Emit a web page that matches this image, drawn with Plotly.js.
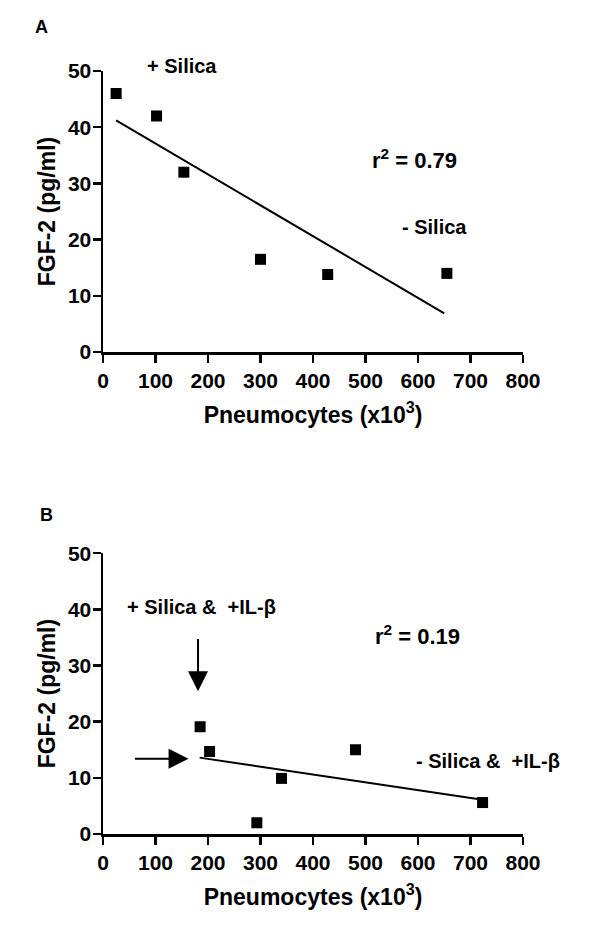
<!DOCTYPE html>
<html>
<head>
<meta charset="utf-8">
<script src="https://cdn.plot.ly/plotly-3.0.1.min.js"></script>
<style>html,body{margin:0;padding:0;background:#fff;}#chart{width:600px;height:946px;}</style>
</head>
<body>
<div id="chart"></div>
<script>
// Panel A: + Silica / - Silica
const pneumocytesA = [25, 102, 154, 300, 428, 655];
const fgf2A = [46, 42, 32, 16.5, 13.8, 14];
const fitXA = [25, 650];
const fitYA = [41.2, 6.9];
// Panel B: +/- Silica & +IL-1beta
const pneumocytesB = [185, 203, 340, 293, 481, 723];
const fgf2B = [19.1, 14.7, 9.9, 2, 15.0, 5.6];
const fitXB = [184, 723];
const fitYB = [13.6, 6.1];
// arrows in panel B: [tail, tip]
const arrowDownX = [181, 181];
const arrowDownY = [35, 25.4];
const arrowRightX = [58, 163];
const arrowRightY = [13.4, 13.4];
const xTicks = [0, 100, 200, 300, 400, 500, 600, 700, 800];
const yTicks = [0, 10, 20, 30, 40, 50];
const xTitle = 'Pneumocytes (x10<sup>3</sup>)';
const yTitle = 'FGF-2 (pg/ml)';

const FONT = '"Liberation Sans", Arial, Helvetica, sans-serif';
const W = 600, H = 946;
const mL = 102.6, mR = 600 - 522.8, mT = 70.7, mB = 946 - 834.3;
const plotH = H - mT - mB;

function scatter(x, y, xa, ya) {
  return {x: x, y: y, xaxis: xa, yaxis: ya, type: 'scatter', mode: 'markers',
    marker: {symbol: 'square', size: 11, color: '#000'}, showlegend: false, hoverinfo: 'skip'};
}
function fit(x, y, xa, ya) {
  return {x: x, y: y, xaxis: xa, yaxis: ya, type: 'scatter', mode: 'lines',
    line: {color: '#000', width: 2}, showlegend: false, hoverinfo: 'skip'};
}
const data = [
  fit(fitXA, fitYA, 'x', 'y'),
  scatter(pneumocytesA, fgf2A, 'x', 'y'),
  fit(fitXB, fitYB, 'x2', 'y2'),
  scatter(pneumocytesB, fgf2B, 'x2', 'y2')
];

function xaxis(anchor) {
  return {anchor: anchor, domain: [0, 1], range: [0, 800], tickvals: xTicks, ticktext: xTicks.map(String),
    showgrid: false, zeroline: false, showline: true, linecolor: '#000', linewidth: 2.5,
    ticks: 'outside', ticklen: 8, tickwidth: 2.5, tickcolor: '#000',
    tickfont: {family: FONT, size: 21, color: '#000', weight: 'bold'},
    title: {text: xTitle, font: {family: FONT, size: 23, color: '#000', weight: 'bold'}, standoff: 16},
    fixedrange: true};
}
function yaxis(anchor, dom) {
  return {anchor: anchor, domain: dom, range: [0, 50], tickvals: yTicks, ticktext: yTicks.map(String),
    showgrid: false, zeroline: false, showline: true, linecolor: '#000', linewidth: 2.5,
    ticks: 'outside', ticklen: 8, tickwidth: 2.5, tickcolor: '#000', ticklabelstandoff: -3,
    tickfont: {family: FONT, size: 21, color: '#000', weight: 'bold'},
    title: {text: yTitle, font: {family: FONT, size: 23, color: '#000', weight: 'bold'}, standoff: 6},
    fixedrange: true};
}

// convert an absolute pixel position to paper coordinates of the plot area
function lab(text, xp, yp, size, anchor) {
  return {text: text, xref: 'paper', yref: 'paper',
    x: (xp - mL) / (W - mL - mR), y: (H - mB - yp) / plotH,
    xanchor: anchor || 'left', yanchor: 'middle', showarrow: false,
    font: {family: FONT, size: size, color: '#000', weight: 'bold'}};
}
function arrow(xs, ys, xa, ya) {
  return {x: xs[1], y: ys[1], ax: xs[0], ay: ys[0], xref: xa, yref: ya, axref: xa, ayref: ya,
    showarrow: true, arrowhead: 2, arrowsize: 2, arrowwidth: 2, arrowcolor: '#000', text: ''};
}

const annotations = [
  lab('A', 41, 27, 18, 'center'),
  lab('+ Silica', 145, 66, 20),
  lab('r<sup>2</sup> = 0.79', 370, 159, 22),
  lab('- Silica', 400, 226.5, 20),
  lab('B', 46, 515, 18, 'center'),
  lab('+ Silica &amp; &nbsp;+IL-β', 125, 606.7, 20),
  lab('r<sup>2</sup> = 0.19', 373, 635, 22),
  lab('- Silica &amp; &nbsp;+IL-β', 414, 761, 20),
  arrow(arrowDownX, arrowDownY, 'x2', 'y2'),
  arrow(arrowRightX, arrowRightY, 'x2', 'y2')
];

const layout = {
  width: W, height: H,
  margin: {l: mL, r: mR, t: mT, b: mB},
  paper_bgcolor: '#fff', plot_bgcolor: '#fff',
  showlegend: false,
  xaxis: xaxis('y'),
  yaxis: yaxis('x', [(834.3 - 352) / plotH, 1]),
  xaxis2: xaxis('y2'),
  yaxis2: yaxis('x2', [0, (834.3 - 553.3) / plotH]),
  annotations: annotations
};

Plotly.newPlot('chart', data, layout, {displayModeBar: false, staticPlot: true});
</script>
</body>
</html>
